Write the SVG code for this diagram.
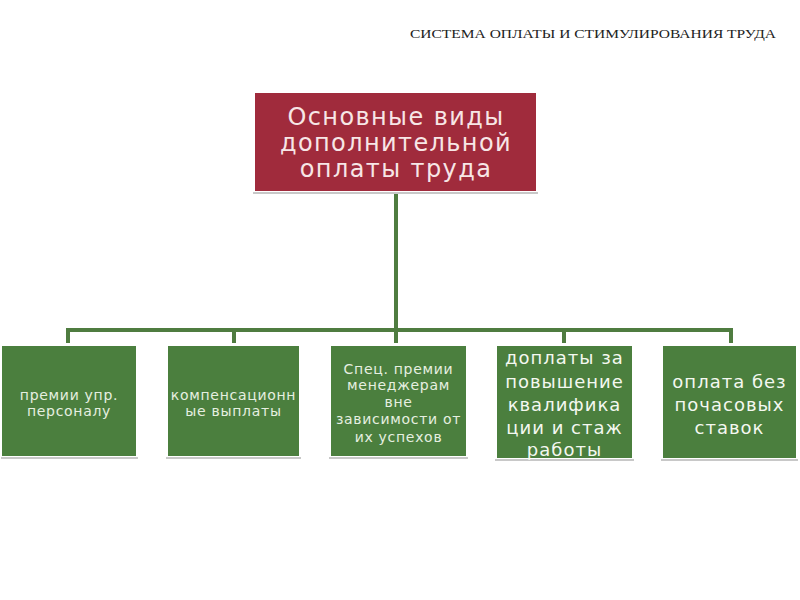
<svg xmlns="http://www.w3.org/2000/svg" width="800" height="600" viewBox="0 0 800 600">
<style>
.title{font-family:"Liberation Serif",serif;font-size:13.5px;fill:#222}
.main{fill:#a02b3c}
.mt{font-family:"DejaVu Sans","Noto Sans",sans-serif;font-size:24px;fill:#f7e6e6;text-anchor:middle;letter-spacing:1.4px}
.box{fill:#4b7f3e}
.sh{stroke:#c8c8c8;stroke-width:2;fill:none}
.st{font-family:"DejaVu Sans","Noto Sans",sans-serif;font-size:14px;fill:#e6efe0;text-anchor:middle;letter-spacing:0.7px}
.bt{font-family:"DejaVu Sans","Noto Sans",sans-serif;font-size:18px;fill:#f4f8f0;text-anchor:middle;letter-spacing:1px}
.ln{stroke:#4f7c40;stroke-width:4;fill:none}
</style>
<rect width="800" height="600" fill="#ffffff"/>
<text class="title" x="410" y="38" textLength="366" lengthAdjust="spacingAndGlyphs">СИСТЕМА ОПЛАТЫ И СТИМУЛИРОВАНИЯ ТРУДА</text>
<g id="connectors">
<path class="ln" d="M396 192V330M68 330H731M68 328V343M234 328V343M396 328V343M564 328V343M731 328V343"/>
</g>
<g id="main">
<line class="sh" x1="253" y1="193" x2="538" y2="193"/>
<rect class="main" x="255" y="93" width="281" height="98"/>
<text class="mt" x="396" y="125">Основные виды</text>
<text class="mt" x="396" y="151">дополнительной</text>
<text class="mt" x="396" y="177">оплаты труда</text>
</g>
<g id="n1">
<line class="sh" x1="1" y1="458" x2="138" y2="458"/>
<rect class="box" x="2" y="346" width="134" height="110"/>
<text class="st" x="69" y="400">премии упр.</text>
<text class="st" x="69" y="416">персоналу</text>
</g>
<g id="n2">
<line class="sh" x1="166" y1="458" x2="301" y2="458"/>
<rect class="box" x="168" y="346" width="131" height="110"/>
<text class="st" x="233.5" y="400">компенсационн</text>
<text class="st" x="233.5" y="416">ые выплаты</text>
</g>
<g id="n3">
<line class="sh" x1="329" y1="458" x2="468" y2="458"/>
<rect class="box" x="331" y="346" width="135" height="110"/>
<text class="st" x="398.5" y="374">Спец. премии</text>
<text class="st" x="398.5" y="390">менеджерам</text>
<text class="st" x="398.5" y="407">вне</text>
<text class="st" x="398.5" y="424">зависимости от</text>
<text class="st" x="398.5" y="442">их успехов</text>
</g>
<g id="n4">
<line class="sh" x1="495" y1="460" x2="634" y2="460"/>
<rect class="box" x="497" y="346" width="135" height="112"/>
<text class="bt" x="564.5" y="364">доплаты за</text>
<text class="bt" x="564.5" y="388">повышение</text>
<text class="bt" x="564.5" y="411">квалифика</text>
<text class="bt" x="564.5" y="434">ции и стаж</text>
<text class="bt" x="564.5" y="456">работы</text>
</g>
<g id="n5">
<line class="sh" x1="661" y1="460" x2="798" y2="460"/>
<rect class="box" x="663" y="346" width="133" height="112"/>
<text class="bt" x="729.5" y="388">оплата без</text>
<text class="bt" x="729.5" y="411">почасовых</text>
<text class="bt" x="729.5" y="434">ставок</text>
</g>
</svg>
